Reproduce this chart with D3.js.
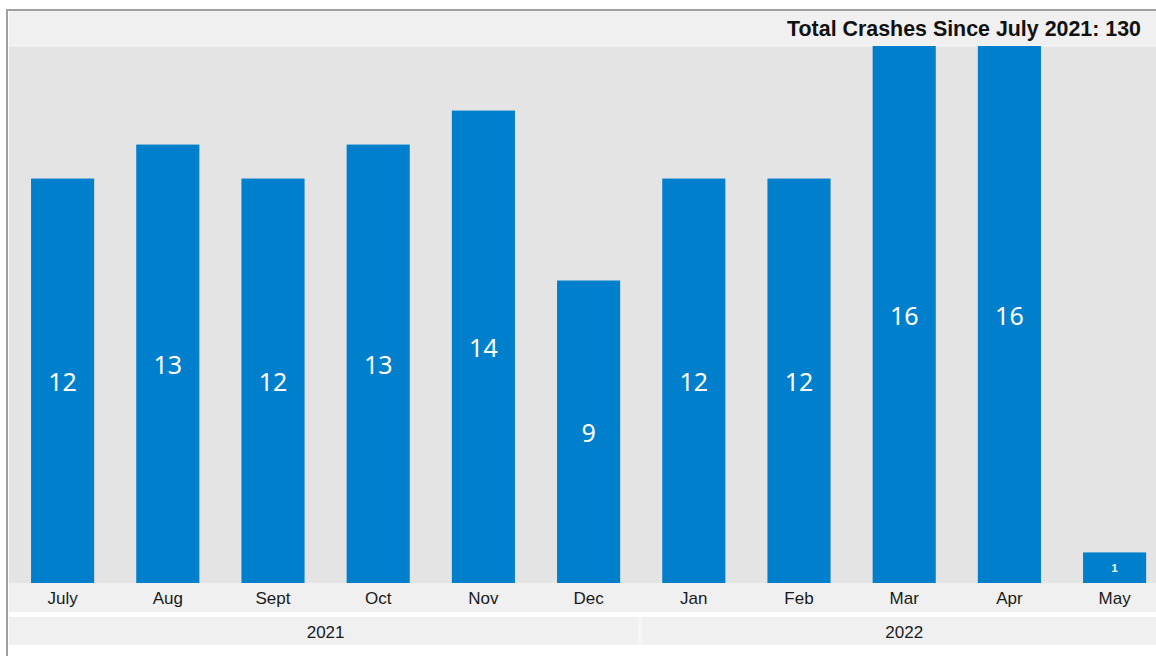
<!DOCTYPE html>
<html>
<head>
<meta charset="utf-8">
<script src="https://cdn.jsdelivr.net/npm/d3@7"></script>
<style>
  html, body { margin: 0; padding: 0; background: #ffffff; }
  svg { display: block; }
</style>
</head>
<body>
<svg id="chart" width="1156" height="656"></svg>
<script>
const months = ["July", "Aug", "Sept", "Oct", "Nov", "Dec", "Jan", "Feb", "Mar", "Apr", "May"];
const monthYears = ["2021", "2021", "2021", "2021", "2021", "2021", "2022", "2022", "2022", "2022", "2022"];
const crashes = [12, 13, 12, 13, 14, 9, 12, 12, 16, 16, 1];
const yearLabels = ["2021", "2022"];
const titleText = "Total Crashes Since July 2021: 130";

const W = 1156, H = 656;
const svg = d3.select("#chart");
const plotTop = 46, plotBottom = 583;
const left = 9;

// Frame
svg.append("rect").attr("x", 6).attr("y", 9).attr("width", W - 6).attr("height", 2).attr("fill", "#a0a0a0");
svg.append("rect").attr("x", 6).attr("y", 9).attr("width", 2).attr("height", H - 9).attr("fill", "#a0a0a0");

// Title band
svg.append("rect").attr("x", left).attr("y", 11).attr("width", W - left).attr("height", plotTop - 11).attr("fill", "#f0f0f0");
// Plot background
svg.append("rect").attr("x", left).attr("y", plotTop).attr("width", W - left).attr("height", plotBottom - plotTop).attr("fill", "#e4e4e4");
svg.append("rect").attr("x", left).attr("y", plotTop - 0.5).attr("width", W - left).attr("height", 1).attr("fill", "#f7f7f7");

// Scales
const x = d3.scaleBand().domain(months).range([10, 1167.2]).paddingInner(0.4).paddingOuter(0.2);
const y = d3.scaleLinear().domain([0.1, 15.9]).range([plotBottom, plotTop]).clamp(true);

// Month band
svg.append("rect").attr("x", left).attr("y", plotBottom).attr("width", W - left).attr("height", 29).attr("fill", "#f0f0f0");
// Year band
const yearTop = 617, yearBottom = 645;
svg.append("rect").attr("x", left).attr("y", yearTop).attr("width", W - left).attr("height", yearBottom - yearTop).attr("fill", "#f0f0f0");

// Bars
svg.append("g").selectAll("rect").data(crashes).join("rect")
  .attr("x", (d, i) => x(months[i]))
  .attr("y", d => y(d))
  .attr("width", x.bandwidth())
  .attr("height", d => plotBottom - y(d))
  .attr("fill", "#0080cc");

// Value labels
svg.append("g").selectAll("text").data(crashes).join("text")
  .attr("x", (d, i) => x(months[i]) + x.bandwidth() / 2)
  .attr("y", d => (y(d) + plotBottom) / 2)
  .attr("text-anchor", "middle")
  .attr("dominant-baseline", "central")
  .attr("fill", "#ffffff")
  .attr("font-family", d => (plotBottom - y(d)) < 50 ? "Liberation Sans, Arial, sans-serif" : "Noto Sans, sans-serif")
  .attr("font-weight", d => (plotBottom - y(d)) < 50 ? "bold" : "normal")
  .attr("font-size", d => (plotBottom - y(d)) < 50 ? 11 : 25)
  .text(d => d);

// Month axis
const xAxis = d3.axisBottom(x).tickSize(0).tickPadding(0);
const gx = svg.append("g").attr("transform", `translate(0,${plotBottom})`).call(xAxis);
gx.select(".domain").remove();
gx.selectAll("text")
  .attr("y", 15)
  .attr("dy", null)
  .attr("dominant-baseline", "central")
  .attr("font-family", "Liberation Sans, Arial, sans-serif")
  .attr("font-size", 17)
  .attr("fill", "#1a1a1a");

// Year groups
const yearSpans = yearLabels.map(yr => {
  const ms = months.filter((m, i) => monthYears[i] === yr);
  const x0 = ms[0] === months[0] ? x.range()[0] : x(ms[0]) - x.step() * x.paddingInner() / 2;
  const last = ms[ms.length - 1];
  const x1 = last === months[months.length - 1] ? x.range()[1] : x(last) + x.bandwidth() + x.step() * x.paddingInner() / 2;
  return { yr, x0, x1 };
});
svg.append("g").selectAll("rect").data(yearSpans.slice(1)).join("rect")
  .attr("x", d => d.x0 - 3).attr("y", yearTop).attr("width", 4).attr("height", yearBottom - yearTop)
  .attr("fill", "#f6f6f6");
svg.append("g").selectAll("text").data(yearSpans).join("text")
  .attr("x", d => (d.x0 + d.x1) / 2)
  .attr("y", (yearTop + yearBottom) / 2 + 1)
  .attr("text-anchor", "middle")
  .attr("dominant-baseline", "central")
  .attr("font-family", "Liberation Sans, Arial, sans-serif")
  .attr("font-size", 17)
  .attr("fill", "#1a1a1a")
  .text(d => d.yr);

// Title
svg.append("text")
  .attr("x", 1141)
  .attr("y", 36)
  .attr("text-anchor", "end")
  .attr("font-family", "Liberation Sans, Arial, sans-serif")
  .attr("font-weight", "bold")
  .attr("font-size", 21.4)
  .attr("fill", "#111111")
  .text(titleText);
</script>
</body>
</html>
